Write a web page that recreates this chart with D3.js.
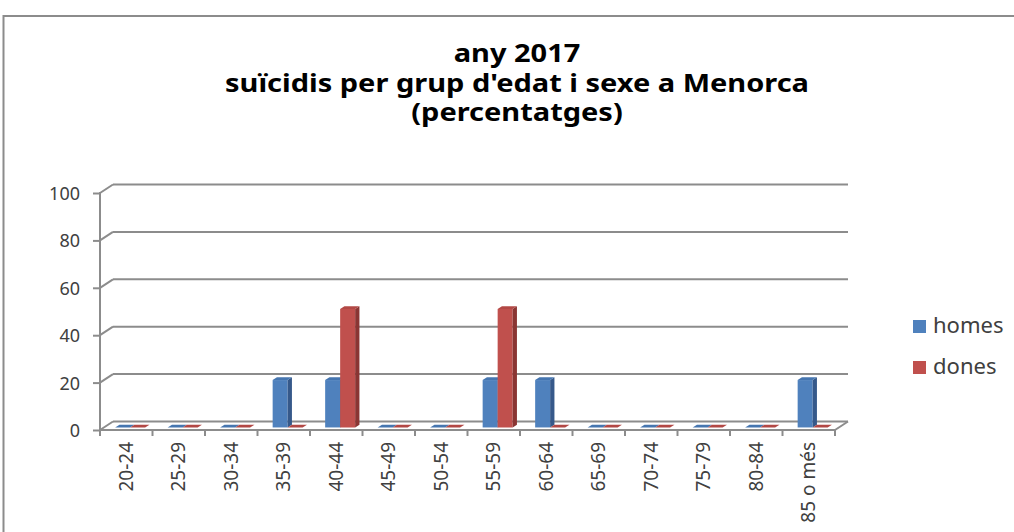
<!DOCTYPE html>
<html>
<head>
<meta charset="utf-8">
<script src="https://cdn.jsdelivr.net/npm/d3@7"></script>
<style>
  html, body { margin: 0; padding: 0; background: #fff; }
  svg { display: block; font-family: "Noto Sans", "Open Sans", sans-serif; }
</style>
</head>
<body>
<div id="chart"></div>
<script>
const categories = ["20-24", "25-29", "30-34", "35-39", "40-44", "45-49", "50-54",
  "55-59", "60-64", "65-69", "70-74", "75-79", "80-84", "85 o més"];
const homes = [0, 0, 0, 20, 20, 0, 0, 20, 20, 0, 0, 0, 0, 20];
const dones = [0, 0, 0, 0, 50, 0, 0, 50, 0, 0, 0, 0, 0, 0];
const seriesNames = ["homes", "dones"];
const yTicks = [0, 20, 40, 60, 80, 100];
const titleLines = ["any 2017", "suïcidis per grup d'edat i sexe a Menorca", "(percentatges)"];

(function drawChart() {
  const width = 1014, height = 532;
  const depthX = 13, depthY = -8.5;        // floor / back wall offset
  const barZ0 = 0.3, barZ1 = 0.63;          // bar depth inside the floor
  const textColor = "#404040";
  const lineColor = "#8c8c8c";

  const palette = {
    homes: { front: "#4f81bd", side: "#36598a", top: "#4676b0" },
    dones: { front: "#c0504d", side: "#8a3533", top: "#b24845" }
  };

  const svg = d3.select("#chart").append("svg")
    .attr("width", width)
    .attr("height", height);

  // chart frame
  svg.append("rect")
    .attr("x", 3.5).attr("y", 16)
    .attr("width", 1040).attr("height", 540)
    .attr("fill", "none")
    .attr("stroke", lineColor)
    .attr("stroke-width", 2);

  // title
  const title = svg.append("g").attr("transform", "translate(517,0) scale(1.16,1)");
  title.selectAll("text")
    .data(titleLines)
    .join("text")
    .attr("x", 0)
    .attr("y", (d, i) => 62.5 + i * 29.5)
    .attr("text-anchor", "middle")
    .attr("font-size", 25)
    .attr("font-weight", 700)
    .attr("fill", "#000")
    .text((d) => d);

  const x = d3.scaleBand().domain(categories).range([100, 835]).paddingInner(0).paddingOuter(0);
  const y = d3.scaleLinear().domain([0, 100]).range([430, 193]);
  const bw = x.bandwidth();
  const xs = d3.scaleBand().domain(seriesNames).range([bw / 2 - 15, bw / 2 + 15]).padding(0);

  const proj = (px, py, z) => [px + z * depthX, py + z * depthY];
  const poly = (pts) => "M" + pts.map((p) => p.join(",")).join("L") + "Z";

  // back wall gridlines and left wall connectors
  const grid = svg.append("g").attr("stroke", lineColor).attr("stroke-width", 2).attr("fill", "none");
  grid.selectAll("line.back")
    .data(yTicks)
    .join("line")
    .attr("x1", x.range()[0] + depthX).attr("x2", x.range()[1] + depthX)
    .attr("y1", (d) => y(d) + depthY).attr("y2", (d) => y(d) + depthY);
  grid.selectAll("line.side")
    .data(yTicks)
    .join("line")
    .attr("x1", x.range()[0]).attr("x2", x.range()[0] + depthX)
    .attr("y1", (d) => y(d)).attr("y2", (d) => y(d) + depthY);

  // floor front edge and right edge
  grid.append("line")
    .attr("x1", x.range()[0]).attr("x2", x.range()[1])
    .attr("y1", y(0)).attr("y2", y(0));
  grid.append("line")
    .attr("x1", x.range()[1]).attr("x2", x.range()[1] + depthX)
    .attr("y1", y(0)).attr("y2", y(0) + depthY);

  // category boundary ticks
  grid.selectAll("line.ctick")
    .data(d3.range(categories.length + 1))
    .join("line")
    .attr("x1", (i) => x.range()[0] + i * bw).attr("x2", (i) => x.range()[0] + i * bw)
    .attr("y1", y(0)).attr("y2", y(0) + 6);

  // y axis
  const yAxis = svg.append("g")
    .attr("transform", `translate(${x.range()[0]},0)`)
    .call(d3.axisLeft(y).tickValues(yTicks).tickSize(7).tickPadding(13));
  yAxis.select(".domain").attr("stroke", lineColor).attr("stroke-width", 2)
    .attr("d", `M0,${y(100) - 1}V${y(0) + 1}`);
  yAxis.selectAll(".tick line").attr("stroke", lineColor).attr("stroke-width", 2);
  yAxis.selectAll(".tick text")
    .attr("font-family", "'Noto Sans', sans-serif")
    .attr("font-size", 18)
    .attr("fill", textColor)
    .attr("dy", "0.36em");

  // bars
  const bars = [];
  categories.forEach((c, i) => {
    seriesNames.forEach((s) => {
      const v = s === "homes" ? homes[i] : dones[i];
      bars.push({ cat: c, series: s, value: v });
    });
  });

  const barG = svg.append("g")
    .selectAll("g")
    .data(bars)
    .join("g");

  barG.each(function (d) {
    const g = d3.select(this);
    const c = palette[d.series];
    const xl = x(d.cat) + xs(d.series);
    const xr = xl + xs.bandwidth();
    const yb = y(0), yt = y(d.value);
    const fBL = proj(xl, yb, barZ0), fBR = proj(xr, yb, barZ0);
    const fTL = proj(xl, yt, barZ0), fTR = proj(xr, yt, barZ0);
    const bBR = proj(xr, yb, barZ1), bTL = proj(xl, yt, barZ1), bTR = proj(xr, yt, barZ1);
    if (d.value > 0) {
      g.append("path").attr("d", poly([fBL, fBR, fTR, fTL])).attr("fill", c.front);
      g.append("path").attr("d", poly([fBR, bBR, bTR, fTR])).attr("fill", c.side);
    }
    g.append("path").attr("d", poly([fTL, fTR, bTR, bTL])).attr("fill", c.top);
  });

  // category labels (rotated)
  svg.append("g")
    .selectAll("text")
    .data(categories)
    .join("text")
    .attr("transform", (d) => `translate(${x(d) + bw / 2 + 6.5},442) rotate(-90)`)
    .attr("text-anchor", "end")
    .attr("font-size", 19)
    .attr("fill", textColor)
    .text((d) => d);

  // legend
  const legend = svg.append("g")
    .selectAll("g")
    .data(seriesNames)
    .join("g")
    .attr("transform", (d, i) => `translate(913,${320 + i * 41})`);
  legend.append("rect")
    .attr("width", 13).attr("height", 13)
    .attr("fill", (d) => palette[d].front);
  legend.append("text")
    .attr("x", 20).attr("y", 12.5)
    .attr("font-size", 21)
    .attr("fill", textColor)
    .attr("transform", "translate(20,0) scale(1.05,1) translate(-20,0)")
    .text((d) => d);
})();
</script>
</body>
</html>
